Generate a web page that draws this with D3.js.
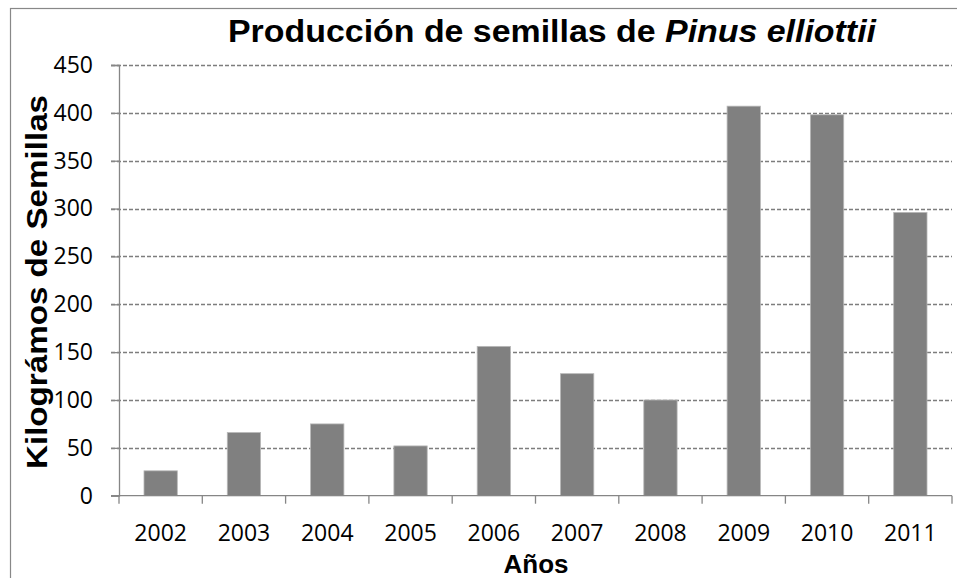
<!DOCTYPE html>
<html>
<head>
<meta charset="utf-8">
<script src="https://cdn.jsdelivr.net/npm/d3@7"></script>
<style>
  body { margin: 0; background: #fff; }
  svg { display: block; }
</style>
</head>
<body>
<div id="chart"></div>
<script>
const years = ['2002', '2003', '2004', '2005', '2006', '2007', '2008', '2009', '2010', '2011'];
const kilos = [26, 66, 75, 52, 156, 127.5, 100, 407, 398, 296];
const yTicks = [0, 50, 100, 150, 200, 250, 300, 350, 400, 450];

const width = 957;
const height = 578;
const margin = { top: 65, left: 119, right: 5, bottom: 82 };

const svg = d3.select('#chart').append('svg')
    .attr('width', width)
    .attr('height', height);

// outer chart frame (continues past the picture on right and bottom)
svg.append('rect')
    .attr('x', 10.5).attr('y', 8.5)
    .attr('width', 960).attr('height', 600)
    .attr('fill', 'none')
    .attr('stroke', '#888')
    .attr('stroke-width', 1.2);

const x = d3.scaleBand()
    .domain(years)
    .range([margin.left, 952]);

const y = d3.scaleLinear()
    .domain([0, 450])
    .range([495.7, 65]);

// gridlines
svg.append('g')
    .selectAll('line')
    .data(yTicks.slice(1))
    .join('line')
    .attr('x1', margin.left - 8)
    .attr('x2', 952)
    .attr('y1', d => Math.round(y(d)) + 0.5)
    .attr('y2', d => Math.round(y(d)) + 0.5)
    .attr('stroke', '#7d7d7d')
    .attr('stroke-width', 1.4)
    .attr('stroke-dasharray', '4,2');

// bars
svg.append('g')
    .selectAll('rect')
    .data(years)
    .join('rect')
    .attr('x', (d) => x(d) + x.bandwidth() * 0.3)
    .attr('width', x.bandwidth() * 0.4)
    .attr('y', (d, i) => y(kilos[i]))
    .attr('height', (d, i) => y(0) - y(kilos[i]))
    .attr('fill', '#808080')
    .attr('stroke', '#b8b8b8')
    .attr('stroke-width', 0.8);

// y axis
const yAxis = svg.append('g')
    .attr('transform', `translate(${margin.left},0)`)
    .call(d3.axisLeft(y).tickValues(yTicks).tickSize(8).tickPadding(18));
yAxis.select('.domain').attr('stroke', '#868686').attr('stroke-width', 1.3);
yAxis.selectAll('.tick line').attr('stroke', '#868686').attr('stroke-width', 1.3);
yAxis.selectAll('text')
    .attr('font-family', '"Open Sans", sans-serif')
    .attr('font-size', '23px')
    .attr('fill', '#000');

// x axis with ticks between categories
const xAxis = svg.append('g')
    .attr('transform', `translate(0,${y(0)})`);
xAxis.append('line')
    .attr('x1', margin.left - 8).attr('x2', 952)
    .attr('stroke', '#868686').attr('stroke-width', 1.3);
xAxis.selectAll('.sep')
    .data(years.concat(['end']))
    .join('line')
    .attr('class', 'sep')
    .attr('x1', (d, i) => margin.left + i * x.step())
    .attr('x2', (d, i) => margin.left + i * x.step())
    .attr('y1', 0).attr('y2', 8)
    .attr('stroke', '#868686').attr('stroke-width', 1.3);
xAxis.selectAll('.lbl')
    .data(years)
    .join('text')
    .attr('class', 'lbl')
    .attr('x', d => x(d) + x.bandwidth() / 2)
    .attr('y', 45)
    .attr('text-anchor', 'middle')
    .attr('font-family', '"Open Sans", sans-serif')
    .attr('font-size', '23px')
    .text(d => d);

// title
const title = svg.append('text')
    .attr('x', 552)
    .attr('y', 42)
    .attr('text-anchor', 'middle')
    .attr('font-family', '"Liberation Sans", Arial, sans-serif')
    .attr('font-weight', 'bold')
    .attr('font-size', '31px')
    .attr('textLength', 648)
    .attr('lengthAdjust', 'spacingAndGlyphs');
title.append('tspan').text('Producción de semillas de ');
title.append('tspan').attr('font-style', 'italic').text('Pinus elliottii');

// axis titles
svg.append('text')
    .attr('transform', 'translate(47,282) rotate(-90)')
    .attr('text-anchor', 'middle')
    .attr('font-family', '"Liberation Sans", Arial, sans-serif')
    .attr('font-weight', 'bold')
    .attr('font-size', '30px')
    .attr('textLength', 374)
    .attr('lengthAdjust', 'spacingAndGlyphs')
    .text('Kilográmos de Semillas');

svg.append('text')
    .attr('x', 536)
    .attr('y', 573)
    .attr('text-anchor', 'middle')
    .attr('font-family', '"Liberation Sans", Arial, sans-serif')
    .attr('font-weight', 'bold')
    .attr('font-size', '26px')
    .text('Años');
</script>
</body>
</html>
